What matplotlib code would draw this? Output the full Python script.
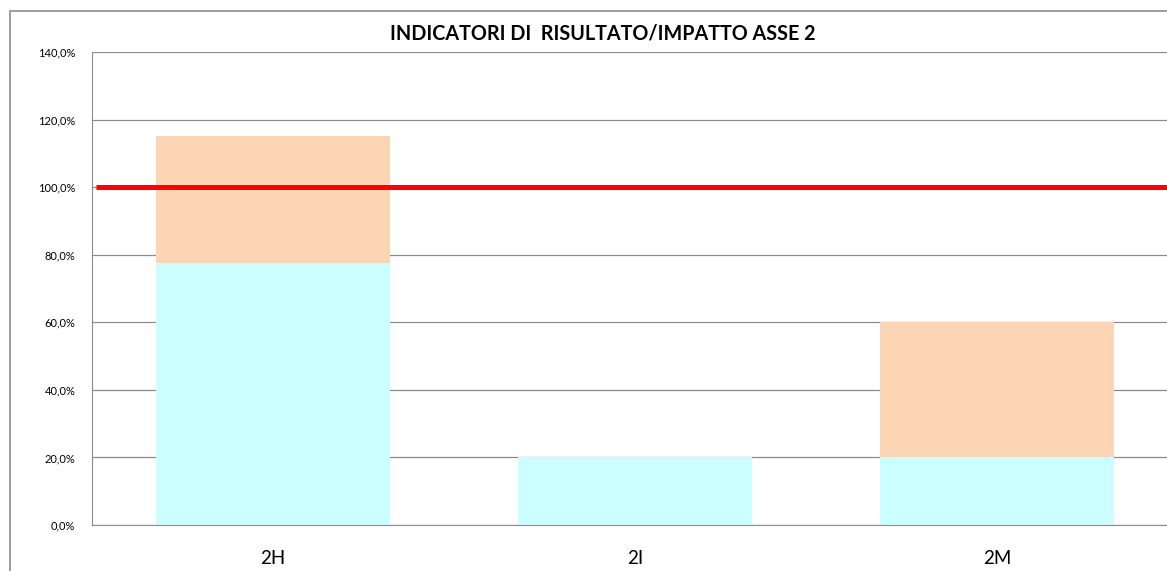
import numpy as np
import matplotlib
matplotlib.use("Agg")
import matplotlib.pyplot as plt
from matplotlib.patches import Rectangle
from matplotlib.ticker import FuncFormatter

# data
categories = ["2H", "2I", "2M"]
base_values = [77.5, 20.0, 20.0]     # cyan segment
extra_values = [37.5, 0.0, 40.0]     # orange segment on top
target_value = 100.0
y_ticks = [0, 20, 40, 60, 80, 100, 120, 140]

plt.rcParams['font.family'] = ['Lato', 'DejaVu Sans']

W, H = 1167, 571
fig = plt.figure(figsize=(W / 100, H / 100), dpi=100)

# outer chart border (runs off the right and bottom edges)
fig.patches.append(Rectangle((10 / W, -0.05), 1.2, (H - 11) / H + 0.05,
                             transform=fig.transFigure, fill=False,
                             edgecolor="#8c8c8c", linewidth=1.2))

left, right, top, bottom = 92, 1178, 52, 525
ax = fig.add_axes([left / W, (H - bottom) / H, (right - left) / W, (bottom - top) / H])

x = np.arange(len(categories))
ax.bar(x, base_values, width=0.646, color="#ccffff", zorder=2)
ax.bar(x, extra_values, width=0.646, bottom=base_values, color="#fcd5b5", zorder=2)
ax.plot([-0.49, 2.5], [target_value, target_value], color="#ff0000", linewidth=3.6,
        solid_capstyle="butt", zorder=3)

ax.set_xlim(-0.5, 2.5)
ax.set_ylim(0, 140)
ax.set_yticks(y_ticks)
ax.yaxis.set_major_formatter(FuncFormatter(lambda v, p: ("%.1f%%" % v).replace(".", ",")))
ax.set_xticks(x)
ax.set_xticklabels(categories, fontsize=13.5)
ax.tick_params(axis="x", length=0, pad=18)
ax.tick_params(axis="y", length=0, pad=12, labelsize=8)

ax.grid(axis="y", color="#8c8c8c", linewidth=0.9, zorder=1)
for side in ["top", "right"]:
    ax.spines[side].set_visible(False)
ax.spines["left"].set_color("#8c8c8c")
ax.spines["bottom"].set_color("#8c8c8c")

fig.text(603 / W, (H - 33) / H, "INDICATORI DI  RISULTATO/IMPATTO ASSE 2",
         ha="center", va="center", fontsize=14.2, fontweight="bold")

fig.savefig("out.png", dpi=100)
